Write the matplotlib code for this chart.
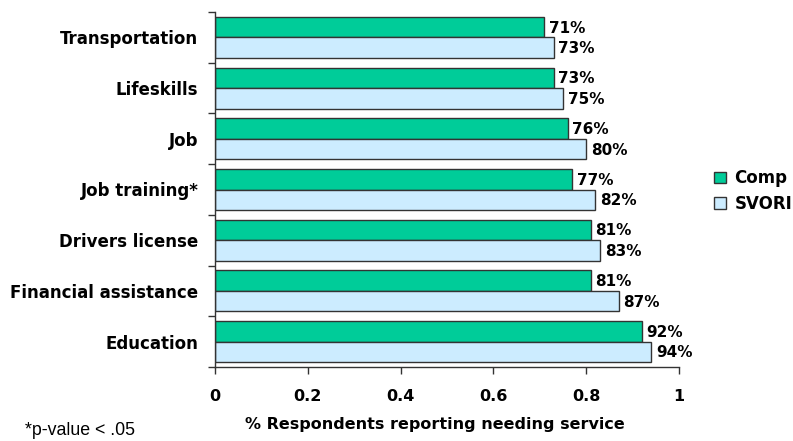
import matplotlib
matplotlib.use("Agg")
import matplotlib.pyplot as plt
import numpy as np

categories = ["Transportation", "Lifeskills", "Job", "Job training*",
              "Drivers license", "Financial assistance", "Education"]
comp = [0.71, 0.73, 0.76, 0.77, 0.81, 0.81, 0.92]
svori = [0.73, 0.75, 0.80, 0.82, 0.83, 0.87, 0.94]
xticks = [0, 0.2, 0.4, 0.6, 0.8, 1]
xtick_labels = ["0", "0.2", "0.4", "0.6", "0.8", "1"]

fig = plt.figure(figsize=(7.93, 4.41), dpi=100)
ax = fig.add_axes([215/793, 1-367/441, (679-215)/793, (367-12)/441])

y = np.arange(len(categories))
h = 0.405
b1 = ax.barh(y - h/2, comp, height=h, color="#00CC99", edgecolor="#333333", linewidth=1, label="Comp")
b2 = ax.barh(y + h/2, svori, height=h, color="#CCECFF", edgecolor="#333333", linewidth=1, label="SVORI")

for rect, v in zip(b1, comp):
    ax.text(v + 0.01, rect.get_y() + rect.get_height()/2 + 0.02, f"{round(v*100)}%",
            va="center", ha="left", fontsize=11, fontweight="bold")
for rect, v in zip(b2, svori):
    ax.text(v + 0.01, rect.get_y() + rect.get_height()/2 + 0.02, f"{round(v*100)}%",
            va="center", ha="left", fontsize=11, fontweight="bold")

ax.set_xlim(0, 1)
ax.set_ylim(len(categories) - 0.5, -0.5)
ax.set_yticks(y)
ax.set_yticklabels(categories, fontsize=12, fontweight="bold")
ax.set_yticks(np.arange(len(categories) + 1) - 0.5, minor=True)
ax.tick_params(axis="y", which="major", length=0, pad=12)
ax.tick_params(axis="y", which="minor", length=5, width=1, color="#333333")
ax.set_xticks(xticks)
ax.set_xticklabels(xtick_labels, fontsize=11.5, fontweight="bold")
ax.tick_params(axis="x", length=5, width=1, color="#333333", pad=11)

for s in ["top", "right"]:
    ax.spines[s].set_visible(False)
for s in ["left", "bottom"]:
    ax.spines[s].set_color("#333333")
    ax.spines[s].set_linewidth(1)

ax.set_xlabel("% Respondents reporting needing service", fontsize=11.5, fontweight="bold")
ax.xaxis.set_label_coords((435-215)/464, -(425-367)/355, transform=ax.transAxes)
ax.xaxis.label.set_va("center")

leg = ax.legend(loc="center left", bbox_to_anchor=(1.044, 0.496), frameon=False,
                prop={"weight": "bold", "size": 12}, handlelength=0.7, handleheight=0.7,
                handletextpad=0.5, labelspacing=0.45)

fig.text(25/793, 1-435/441, "*p-value < .05", fontsize=12.8, ha="left", va="baseline",
         family="Liberation Sans")

fig.savefig("out.png", dpi=100)
